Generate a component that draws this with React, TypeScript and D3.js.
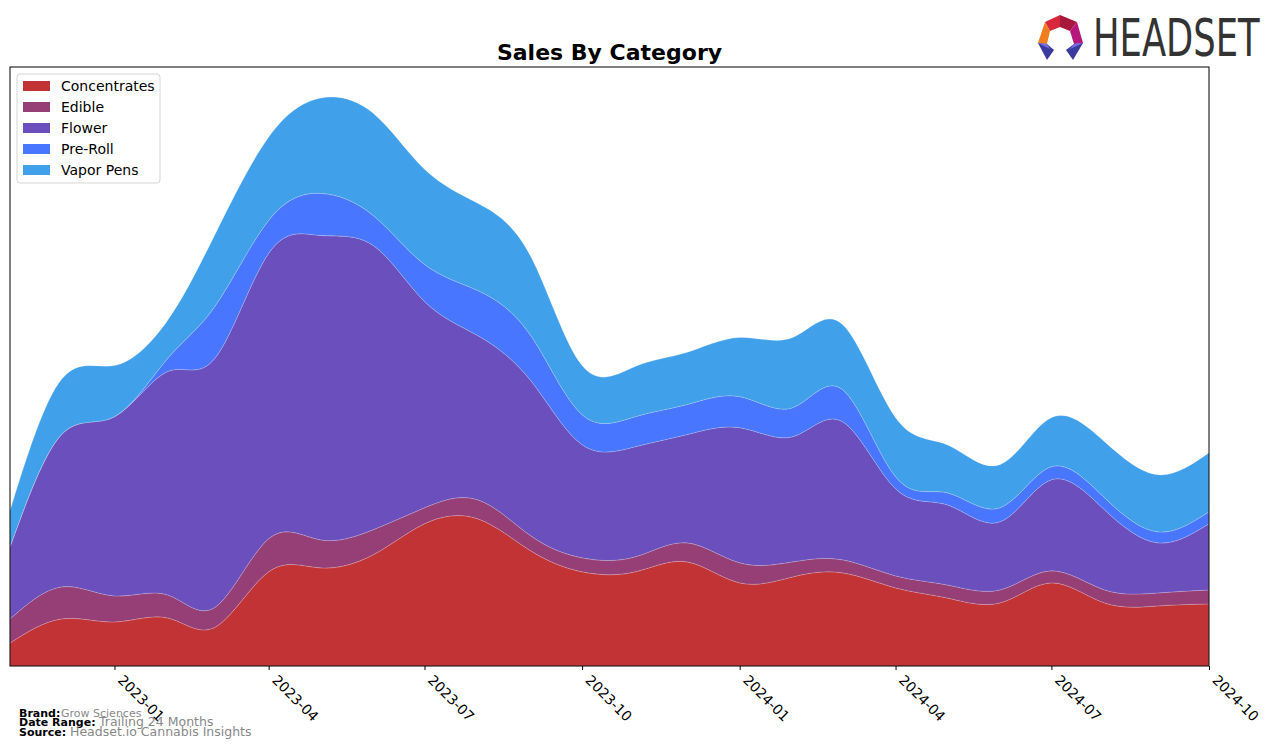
import React, { useEffect, useRef } from 'react';
import * as d3 from 'd3';

const months = [
  '2022-11', '2022-12', '2023-01', '2023-02', '2023-03', '2023-04',
  '2023-05', '2023-06', '2023-07', '2023-08', '2023-09', '2023-10',
  '2023-11', '2023-12', '2024-01', '2024-02', '2024-03', '2024-04',
  '2024-05', '2024-06', '2024-07', '2024-08', '2024-09', '2024-10',
];

const categories = ['Concentrates', 'Edible', 'Flower', 'Pre-Roll', 'Vapor Pens'];
const colors = ['#c13334', '#963f76', '#6a4fbd', '#4876ff', '#40a0e9'];

const concentrates = [23, 47, 44, 48, 39, 94, 98, 111, 142, 147, 115, 94, 94, 104, 83, 89, 93, 78, 68, 63, 83, 63, 60, 62];
const edible = [24, 32, 26, 23, 20, 33, 28, 25, 16, 19, 15, 14, 15, 19, 20, 15, 13, 12, 13, 13, 12, 13, 13, 14];
const flower = [72, 152, 179, 223, 249, 285, 304, 284, 206, 164, 155, 113, 110, 108, 135, 125, 138, 87, 80, 68, 91, 80, 50, 66];
const preRoll = [0, 0, 0, 13, 52, 33, 42, 30, 37, 45, 45, 30, 30, 30, 31, 29, 32, 12, 12, 14, 13, 12, 11, 12];
const vaporPens = [36, 55, 51, 38, 72, 83, 95, 102, 95, 87, 79, 49, 50, 52, 59, 70, 65, 59, 48, 43, 49, 56, 57, 59];

const tickLabels = ['2023-01', '2023-04', '2023-07', '2023-10', '2024-01', '2024-04', '2024-07', '2024-10'];

const parseMonth = d3.timeParse('%Y-%m');

const App = () => {
  const svgRef = useRef<SVGSVGElement>(null);

  const width = 1276;
  const height = 748;
  const margin = { top: 67, right: 67, bottom: 82, left: 10 };

  useEffect(() => {
    document.body.style.margin = '0';
    document.body.style.overflow = 'hidden';

    const svg = d3.select(svgRef.current);
    svg.selectAll('*').remove();

    const series = [concentrates, edible, flower, preRoll, vaporPens];
    const data = months.map((m, i) => {
      const row: any = { date: parseMonth(m) };
      categories.forEach((c, k) => { row[c] = series[k][i]; });
      return row;
    });

    const stacked = d3.stack().keys(categories)(data);
    const maxTotal = d3.max(stacked[stacked.length - 1], d => d[1]) as number;

    const x = d3.scaleTime()
      .domain([parseMonth(months[0]) as Date, parseMonth(months[months.length - 1]) as Date])
      .range([margin.left, width - margin.right]);

    const y = d3.scaleLinear()
      .domain([0, maxTotal * 1.055])
      .range([height - margin.bottom, margin.top]);

    const area = d3.area<any>()
      .x(d => x(d.data.date))
      .y0(d => y(d[0]))
      .y1(d => y(d[1]))
      .curve(d3.curveNatural);

    svg.append('defs').append('clipPath').attr('id', 'plot-clip')
      .append('rect')
      .attr('x', margin.left)
      .attr('y', margin.top)
      .attr('width', width - margin.right - margin.left)
      .attr('height', height - margin.bottom - margin.top);

    svg.append('g')
      .attr('clip-path', 'url(#plot-clip)')
      .selectAll('path')
      .data(stacked)
      .join('path')
      .attr('fill', (d, i) => colors[i])
      .attr('stroke', 'rgba(255,255,255,0.3)')
      .attr('stroke-width', 0.6)
      .attr('d', area);

    // frame
    svg.append('rect')
      .attr('x', margin.left)
      .attr('y', margin.top)
      .attr('width', width - margin.right - margin.left)
      .attr('height', height - margin.bottom - margin.top)
      .attr('fill', 'none')
      .attr('stroke', '#000')
      .attr('stroke-width', 1);

    // x axis
    const xAxis = svg.append('g')
      .attr('transform', `translate(0,${height - margin.bottom})`)
      .call(d3.axisBottom(x)
        .tickValues(tickLabels.map(t => parseMonth(t) as Date))
        .tickFormat(d3.timeFormat('%Y-%m') as any)
        .tickSize(4)
        .tickSizeOuter(0));
    xAxis.select('.domain').remove();
    xAxis.selectAll('.tick line').attr('stroke', '#000');
    xAxis.selectAll('.tick text')
      .attr('fill', '#000')
      .attr('font-family', 'DejaVu Sans')
      .attr('font-size', 14)
      .attr('text-anchor', 'start')
      .attr('x', 0)
      .attr('y', 0)
      .attr('dy', '0')
      .attr('transform', 'translate(2,15) rotate(45)');

    // title
    svg.append('text')
      .attr('x', (margin.left + width - margin.right) / 2)
      .attr('y', 60)
      .attr('text-anchor', 'middle')
      .attr('font-family', 'DejaVu Sans')
      .attr('font-weight', 'bold')
      .attr('font-size', 22)
      .text('Sales By Category');

    // legend
    const legend = svg.append('g').attr('transform', 'translate(17,74)');
    legend.append('rect')
      .attr('width', 143)
      .attr('height', 109)
      .attr('rx', 3)
      .attr('fill', 'rgba(255,255,255,0.8)')
      .attr('stroke', '#d5d5d5');
    categories.forEach((c, i) => {
      legend.append('rect')
        .attr('x', 6)
        .attr('y', 7 + i * 21)
        .attr('width', 27)
        .attr('height', 10)
        .attr('fill', colors[i]);
      legend.append('text')
        .attr('x', 44)
        .attr('y', 17 + i * 21)
        .attr('font-family', 'DejaVu Sans')
        .attr('font-size', 14)
        .text(c);
    });

    // footer
    const footer = [
      { label: 'Brand:', value: 'Grow Sciences', y: 717, vx: 61, vs: 11 },
      { label: 'Date Range:', value: 'Trailing 24 Months', y: 726, vx: 99, vs: 12.5 },
      { label: 'Source:', value: 'Headset.io Cannabis Insights', y: 736, vx: 70, vs: 12.5 },
    ];
    footer.forEach(f => {
      svg.append('text')
        .attr('x', 19)
        .attr('y', f.y)
        .attr('font-family', 'DejaVu Sans')
        .attr('font-weight', 'bold')
        .attr('font-size', 11)
        .text(f.label);
      svg.append('text')
        .attr('x', f.vx)
        .attr('y', f.y)
        .attr('font-family', 'DejaVu Sans')
        .attr('font-size', f.vs)
        .attr('fill', '#888')
        .text(f.value);
    });

    // logo
    const logo = svg.append('g');
    const pieces = [
      { pts: [[1045, 22], [1060, 15], [1060, 27], [1050, 31]], c: '#d8263a' },
      { pts: [[1060, 15], [1077, 22], [1070, 31], [1060, 27]], c: '#a8183c' },
      { pts: [[1077, 22], [1083, 43], [1074, 44], [1070, 31]], c: '#b5177a' },
      { pts: [[1045, 22], [1050, 31], [1047, 44], [1038, 43]], c: '#f07d1e' },
      { pts: [[1038, 43], [1047, 44], [1054, 50], [1047, 60]], c: '#3a3aa0' },
      { pts: [[1083, 43], [1074, 44], [1066, 50], [1073, 60]], c: '#3a3aa0' },
      { pts: [[1038, 43], [1047, 44], [1050, 49]], c: '#7b6be0' },
      { pts: [[1083, 43], [1074, 44], [1070, 49]], c: '#7b6be0' },
    ];
    pieces.forEach(p => {
      logo.append('polygon')
        .attr('points', p.pts.map(q => q.join(',')).join(' '))
        .attr('fill', p.c);
    });
    logo.append('text')
      .attr('transform', 'translate(1093,56) scale(0.68,1)')
      .attr('font-family', 'DejaVu Sans')
      .attr('font-size', 52)
      .attr('fill', '#333')
      .text('HEADSET');
  }, []);

  return (
    <svg ref={svgRef} width={width} height={height}
      style={{ position: 'absolute', left: 0, top: 0, background: '#fff' }} />
  );
};

export default App;
